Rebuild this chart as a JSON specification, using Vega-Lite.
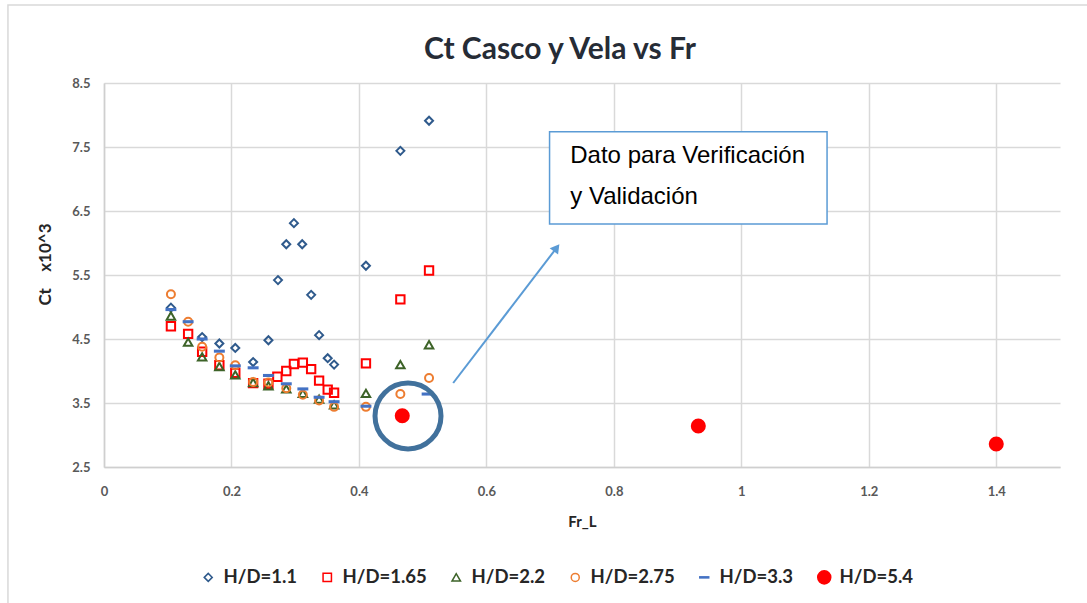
{
  "$schema": "https://vega.github.io/schema/vega-lite/v6.json",
  "autosize": "none",
  "width": 956,
  "height": 384,
  "padding": {"left": 104, "top": 83, "right": 27, "bottom": 136},
  "background": "white",
  "title": {
    "text": "Ct Casco y Vela vs Fr",
    "font": "Lato",
    "fontSize": 30,
    "fontWeight": "bold",
    "color": "#262C36",
    "anchor": "middle",
    "dx": -22,
    "offset": -61
  },
  "config": {
    "view": {"stroke": null},
    "axis": {
      "labelFont": "Lato",
      "labelFontWeight": "bold",
      "labelFontSize": 13,
      "labelColor": "#595959",
      "titleFont": "Lato",
      "titleFontWeight": "bold",
      "titleColor": "#262626",
      "gridColor": "#D9D9D9",
      "gridWidth": 1.5,
      "domainColor": "#CFCFCF",
      "domainWidth": 1.5,
      "ticks": false
    },
    "legend": {
      "labelFont": "Lato",
      "labelFontWeight": "bold",
      "labelFontSize": 18.5,
      "labelColor": "#262626",
      "symbolSize": 70,
      "symbolStrokeWidth": 1.5,
      "labelOffset": 6,
      "columnPadding": 20
    }
  },
  "datasets": {
    "pts": [
      {"s": "H/D=1.1", "Fr": 0.105, "Ct": 4.99},
      {"s": "H/D=1.1", "Fr": 0.154, "Ct": 4.53},
      {"s": "H/D=1.1", "Fr": 0.181, "Ct": 4.43},
      {"s": "H/D=1.1", "Fr": 0.206, "Ct": 4.36},
      {"s": "H/D=1.1", "Fr": 0.234, "Ct": 4.14},
      {"s": "H/D=1.1", "Fr": 0.258, "Ct": 4.48},
      {"s": "H/D=1.1", "Fr": 0.273, "Ct": 5.42},
      {"s": "H/D=1.1", "Fr": 0.286, "Ct": 5.98},
      {"s": "H/D=1.1", "Fr": 0.298, "Ct": 6.31},
      {"s": "H/D=1.1", "Fr": 0.311, "Ct": 5.98},
      {"s": "H/D=1.1", "Fr": 0.325, "Ct": 5.19},
      {"s": "H/D=1.1", "Fr": 0.3375, "Ct": 4.56},
      {"s": "H/D=1.1", "Fr": 0.351, "Ct": 4.2},
      {"s": "H/D=1.1", "Fr": 0.361, "Ct": 4.1},
      {"s": "H/D=1.1", "Fr": 0.411, "Ct": 5.645},
      {"s": "H/D=1.1", "Fr": 0.465, "Ct": 7.44},
      {"s": "H/D=1.1", "Fr": 0.51, "Ct": 7.91},
      {"s": "H/D=1.65", "Fr": 0.105, "Ct": 4.7},
      {"s": "H/D=1.65", "Fr": 0.132, "Ct": 4.58},
      {"s": "H/D=1.65", "Fr": 0.154, "Ct": 4.3},
      {"s": "H/D=1.65", "Fr": 0.181, "Ct": 4.09},
      {"s": "H/D=1.65", "Fr": 0.206, "Ct": 3.97},
      {"s": "H/D=1.65", "Fr": 0.234, "Ct": 3.81},
      {"s": "H/D=1.65", "Fr": 0.258, "Ct": 3.8},
      {"s": "H/D=1.65", "Fr": 0.272, "Ct": 3.91},
      {"s": "H/D=1.65", "Fr": 0.286, "Ct": 4.0},
      {"s": "H/D=1.65", "Fr": 0.298, "Ct": 4.11},
      {"s": "H/D=1.65", "Fr": 0.312, "Ct": 4.13},
      {"s": "H/D=1.65", "Fr": 0.325, "Ct": 4.03},
      {"s": "H/D=1.65", "Fr": 0.3375, "Ct": 3.85},
      {"s": "H/D=1.65", "Fr": 0.351, "Ct": 3.71},
      {"s": "H/D=1.65", "Fr": 0.361, "Ct": 3.66},
      {"s": "H/D=1.65", "Fr": 0.411, "Ct": 4.12},
      {"s": "H/D=1.65", "Fr": 0.465, "Ct": 5.12},
      {"s": "H/D=1.65", "Fr": 0.51, "Ct": 5.57},
      {"s": "H/D=2.2", "Fr": 0.105, "Ct": 4.86},
      {"s": "H/D=2.2", "Fr": 0.132, "Ct": 4.45},
      {"s": "H/D=2.2", "Fr": 0.154, "Ct": 4.22},
      {"s": "H/D=2.2", "Fr": 0.181, "Ct": 4.07},
      {"s": "H/D=2.2", "Fr": 0.206, "Ct": 3.94},
      {"s": "H/D=2.2", "Fr": 0.234, "Ct": 3.82},
      {"s": "H/D=2.2", "Fr": 0.258, "Ct": 3.77},
      {"s": "H/D=2.2", "Fr": 0.286, "Ct": 3.72},
      {"s": "H/D=2.2", "Fr": 0.312, "Ct": 3.65},
      {"s": "H/D=2.2", "Fr": 0.3375, "Ct": 3.56},
      {"s": "H/D=2.2", "Fr": 0.361, "Ct": 3.47},
      {"s": "H/D=2.2", "Fr": 0.411, "Ct": 3.65},
      {"s": "H/D=2.2", "Fr": 0.465, "Ct": 4.1},
      {"s": "H/D=2.2", "Fr": 0.51, "Ct": 4.41},
      {"s": "H/D=2.75", "Fr": 0.105, "Ct": 5.2},
      {"s": "H/D=2.75", "Fr": 0.132, "Ct": 4.77},
      {"s": "H/D=2.75", "Fr": 0.154, "Ct": 4.38},
      {"s": "H/D=2.75", "Fr": 0.181, "Ct": 4.21},
      {"s": "H/D=2.75", "Fr": 0.206, "Ct": 4.09},
      {"s": "H/D=2.75", "Fr": 0.234, "Ct": 3.83},
      {"s": "H/D=2.75", "Fr": 0.258, "Ct": 3.82},
      {"s": "H/D=2.75", "Fr": 0.286, "Ct": 3.73},
      {"s": "H/D=2.75", "Fr": 0.312, "Ct": 3.63},
      {"s": "H/D=2.75", "Fr": 0.3375, "Ct": 3.54},
      {"s": "H/D=2.75", "Fr": 0.361, "Ct": 3.44},
      {"s": "H/D=2.75", "Fr": 0.411, "Ct": 3.44},
      {"s": "H/D=2.75", "Fr": 0.465, "Ct": 3.64},
      {"s": "H/D=2.75", "Fr": 0.51, "Ct": 3.89},
      {"s": "H/D=3.3", "Fr": 0.105, "Ct": 4.96},
      {"s": "H/D=3.3", "Fr": 0.132, "Ct": 4.77},
      {"s": "H/D=3.3", "Fr": 0.154, "Ct": 4.5},
      {"s": "H/D=3.3", "Fr": 0.181, "Ct": 4.31},
      {"s": "H/D=3.3", "Fr": 0.206, "Ct": 4.08},
      {"s": "H/D=3.3", "Fr": 0.234, "Ct": 4.05},
      {"s": "H/D=3.3", "Fr": 0.258, "Ct": 3.93},
      {"s": "H/D=3.3", "Fr": 0.286, "Ct": 3.8},
      {"s": "H/D=3.3", "Fr": 0.312, "Ct": 3.72},
      {"s": "H/D=3.3", "Fr": 0.3375, "Ct": 3.59},
      {"s": "H/D=3.3", "Fr": 0.361, "Ct": 3.52},
      {"s": "H/D=3.3", "Fr": 0.411, "Ct": 3.45},
      {"s": "H/D=3.3", "Fr": 0.507, "Ct": 3.64},
      {"s": "H/D=5.4", "Fr": 0.468, "Ct": 3.3},
      {"s": "H/D=5.4", "Fr": 0.9325, "Ct": 3.14},
      {"s": "H/D=5.4", "Fr": 1.4, "Ct": 2.86}
    ],
    "frame": [{"x1": -0.1507, "x2": 1.56, "y1": 9.72, "y2": 0.2}],
    "box": [{"x1": 0.6991, "x2": 1.1345, "y1": 7.739, "y2": 6.297}],
    "txt": [
      {"Fr": 0.7316, "Ct": 7.359, "t": "Dato para Verificación"},
      {"Fr": 0.7316, "Ct": 6.719, "t": "y Validación"}
    ],
    "arrow": [{"x1": 0.5479, "y1": 3.8125, "x2": 0.7102, "y2": 5.925}],
    "head": [{"Fr": 0.7102, "Ct": 5.925}],
    "ring": [{"Fr": 0.477, "Ct": 3.297}]
  },
  "layer": [
    {
      "data": {"name": "frame"},
      "mark": {"type": "rect", "clip": false, "fill": null, "stroke": "#D9D9D9", "strokeWidth": 1.5},
      "encoding": {
        "x": {"field": "x1", "type": "quantitative", "scale": {"domain": [0, 1.5], "nice": false, "zero": false}},
        "x2": {"field": "x2"},
        "y": {"field": "y1", "type": "quantitative", "scale": {"domain": [2.5, 8.5], "nice": false, "zero": false}},
        "y2": {"field": "y2"}
      }
    },
    {
      "data": {"name": "pts"},
      "mark": {
        "type": "point", "filled": false, "strokeWidth": 2, "opacity": 1,
        "fill": {"expr": "(datum.s || datum.value) === 'H/D=3.3' ? '#4472C4' : (datum.s || datum.value) === 'H/D=5.4' ? '#FF0000' : 'transparent'"}
      },
      "encoding": {
        "x": {
          "field": "Fr", "type": "quantitative",
          "scale": {"domain": [0, 1.5], "nice": false, "zero": false},
          "axis": {"values": [0, 0.2, 0.4, 0.6, 0.8, 1, 1.2, 1.4], "format": ".1~f", "title": "Fr_L", "titleFontSize": 15, "titlePadding": 16, "labelPadding": 18, "labelFlush": false}
        },
        "y": {
          "field": "Ct", "type": "quantitative",
          "scale": {"domain": [2.5, 8.5], "nice": false, "zero": false},
          "axis": {"values": [2.5, 3.5, 4.5, 5.5, 6.5, 7.5, 8.5], "format": ".1f", "title": "Ct\u00a0\u00a0\u00a0\u00a0x10^3", "titleFontSize": 17, "titleAngle": -90, "titleX": -59, "titleY": 181, "titleAlign": "center", "titleBaseline": "middle", "labelPadding": 14, "labelFlush": false}
        },
        "color": {
          "field": "s", "type": "nominal",
          "scale": {
            "domain": ["H/D=1.1", "H/D=1.65", "H/D=2.2", "H/D=2.75", "H/D=3.3", "H/D=5.4"],
            "range": ["#2F5A8C", "#FF0000", "#3D6328", "#ED7D31", "#4472C4", "#FF0000"]
          },
          "legend": {"title": null, "orient": "none", "legendX": 95, "legendY": 485, "direction": "horizontal"}
        },
        "shape": {
          "field": "s", "type": "nominal",
          "scale": {
            "domain": ["H/D=1.1", "H/D=1.65", "H/D=2.2", "H/D=2.75", "H/D=3.3", "H/D=5.4"],
            "range": ["diamond", "square", "triangle-up", "circle", "M-1,-0.12H1V0.12H-1Z", "circle"]
          },
          "legend": {"title": null, "orient": "none", "legendX": 95, "legendY": 485, "direction": "horizontal"}
        },
        "size": {
          "field": "s", "type": "nominal",
          "scale": {
            "type": "ordinal",
            "domain": ["H/D=1.1", "H/D=1.65", "H/D=2.2", "H/D=2.75", "H/D=3.3", "H/D=5.4"],
            "range": [64, 70, 72, 64, 80, 170]
          },
          "legend": null
        }
      }
    },
    {
      "data": {"name": "box"},
      "mark": {"type": "rect", "fill": "white", "stroke": "#5B9BD5", "strokeWidth": 1.5},
      "encoding": {
        "x": {"field": "x1", "type": "quantitative", "scale": {"domain": [0, 1.5], "nice": false, "zero": false}},
        "x2": {"field": "x2"},
        "y": {"field": "y1", "type": "quantitative", "scale": {"domain": [2.5, 8.5], "nice": false, "zero": false}},
        "y2": {"field": "y2"}
      }
    },
    {
      "data": {"name": "txt"},
      "mark": {"type": "text", "align": "left", "baseline": "middle", "font": "Liberation Sans", "fontSize": 24, "color": "#000000"},
      "encoding": {
        "x": {"field": "Fr", "type": "quantitative"},
        "y": {"field": "Ct", "type": "quantitative"},
        "text": {"field": "t"}
      }
    },
    {
      "data": {"name": "arrow"},
      "mark": {"type": "rule", "color": "#5B9BD5", "strokeWidth": 2},
      "encoding": {
        "x": {"field": "x1", "type": "quantitative"},
        "y": {"field": "y1", "type": "quantitative"},
        "x2": {"field": "x2"},
        "y2": {"field": "y2"}
      }
    },
    {
      "data": {"name": "head"},
      "mark": {"type": "point", "shape": "triangle-up", "filled": true, "color": "#5B9BD5", "size": 110, "angle": 37, "opacity": 1},
      "encoding": {
        "x": {"field": "Fr", "type": "quantitative"},
        "y": {"field": "Ct", "type": "quantitative"}
      }
    },
    {
      "data": {"name": "ring"},
      "mark": {"type": "point", "shape": "circle", "filled": false, "stroke": "#41719C", "strokeWidth": 5, "size": 4356, "opacity": 1},
      "encoding": {
        "x": {"field": "Fr", "type": "quantitative"},
        "y": {"field": "Ct", "type": "quantitative"}
      }
    }
  ]
}
